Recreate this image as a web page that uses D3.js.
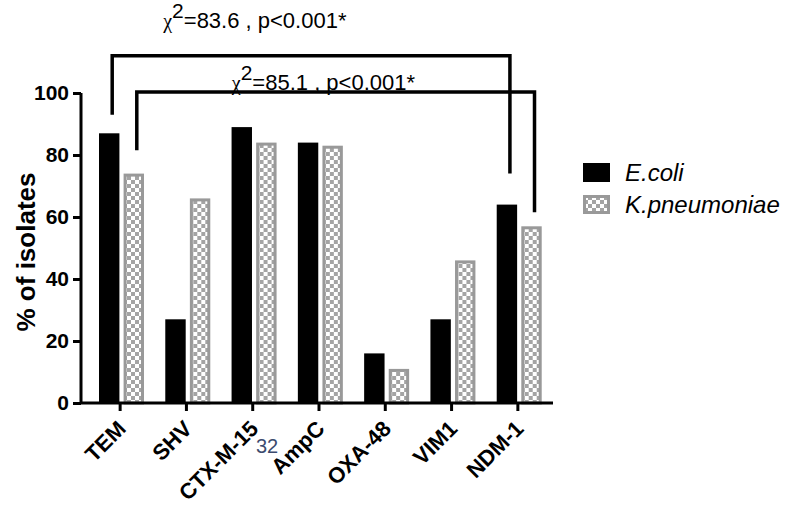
<!DOCTYPE html>
<html><head><meta charset="utf-8">
<script src="https://cdn.jsdelivr.net/npm/d3@7"></script>
<style>
html,body{margin:0;padding:0;background:#fff;}
svg{display:block;font-family:"Liberation Sans",Arial,sans-serif;}
</style></head>
<body>
<svg id="chart" width="800" height="506"></svg>
<script>
// ---- data ----
const categories = ["TEM","SHV","CTX-M-15","AmpC","OXA-48","VIM1","NDM-1"];
const seriesNames = ["E.coli","K.pneumoniae"];
const ecoli = [87, 27, 89, 84, 16, 27, 64];
const kpneumoniae = [74, 66, 84, 83, 11, 46, 57];
const yTicks = [0, 20, 40, 60, 80, 100];
// significance brackets (y in % units)
const bracketSeries = [0, 1];
const bracketTop = [112, 100.3];
const bracketLeftEnd = [93, 81.5];
const bracketRightEnd = [74, 61.5];
const chiValues = ["83.6", "85.1"];
const pLabel = "p<0.001*";

// ---- layout ----
const svg = d3.select("#chart");
const y = d3.scaleLinear().domain([0, 100]).range([403, 93]);
const x0 = d3.scaleBand().domain(categories).range([87, 551]).padding(0);
const x1 = d3.scaleBand().domain(seriesNames).range([12, 57]).paddingInner(0.17);

const defs = svg.append("defs");
const pat = defs.append("pattern").attr("id","chk").attr("patternUnits","userSpaceOnUse")
  .attr("width",8).attr("height",8);
pat.append("rect").attr("width",8).attr("height",8).attr("fill","#ffffff");
pat.append("rect").attr("x",0).attr("y",0).attr("width",4).attr("height",4).attr("fill","#a4a4a4");
pat.append("rect").attr("x",4).attr("y",4).attr("width",4).attr("height",4).attr("fill","#a4a4a4");

const rows = categories.map((c,i)=>({cat:c, vals:[ecoli[i], kpneumoniae[i]]}));

const g = svg.append("g");
const groups = g.selectAll("g.grp").data(rows).join("g")
  .attr("transform", d => `translate(${x0(d.cat)},0)`);
groups.selectAll("rect").data(d => d.vals.map((v,j)=>({s:seriesNames[j], v, j})))
  .join("rect")
  .attr("x", d => x1(d.s) + (d.j ? 1.5 : 0))
  .attr("y", d => y(d.v) + (d.j ? 1.5 : 0))
  .attr("width", d => x1.bandwidth() - (d.j ? 3 : 0))
  .attr("height", d => y(0) - y(d.v) - (d.j ? 1.5 : 0))
  .attr("fill", d => d.j ? "url(#chk)" : "#000")
  .attr("stroke", d => d.j ? "#999999" : "none")
  .attr("stroke-width", 3);

// axes
const yAxis = d3.axisLeft(y).tickValues(yTicks).tickSize(8).tickPadding(4);
const ya = svg.append("g").attr("transform","translate(81,0)").call(yAxis);
ya.select(".domain").attr("stroke","#000").attr("stroke-width",3).attr("d","M0,93V403");
ya.selectAll(".tick line").attr("stroke","#000").attr("stroke-width",3);
ya.selectAll(".tick text").attr("font-size",21).attr("font-weight","bold")
  .attr("font-family","'Liberation Sans',Arial,sans-serif").attr("fill","#000");

const xAxis = d3.axisBottom(x0).tickSize(8).tickSizeOuter(0).tickFormat("");
const xa = svg.append("g").attr("transform","translate(0,403)").call(xAxis);
xa.select(".domain").attr("stroke","#000").attr("stroke-width",3).attr("d","M81,0H553");
xa.selectAll(".tick line").attr("stroke","#000").attr("stroke-width",3);

svg.append("g").selectAll("text").data(categories).join("text")
  .attr("transform", d => `translate(${x0(d)+x0.bandwidth()/2-4},${419}) rotate(-45)`)
  .attr("text-anchor","end").attr("dy","0.71em")
  .attr("font-size",22).attr("font-weight","bold").attr("fill","#000")
  .text(d => d);

// y title
svg.append("text").attr("transform","translate(35,252) rotate(-90)")
  .attr("text-anchor","middle").attr("font-size",26).attr("font-weight","bold")
  .text("% of isolates");

// page number artifact
svg.append("text").attr("x",256).attr("y",453).attr("font-size",20)
  .attr("fill","#3c4b6e").text("32");

// brackets
const barCenter = (cat, s) => x0(cat) + x1(seriesNames[s]) + x1.bandwidth()/2;
const textOffsets = [51, 95];
const textBaselines = [121, 101];
bracketSeries.forEach((s,i)=>{
  const lx = barCenter(categories[0], s) + 3;
  const rx = barCenter(categories[categories.length-1], s) + 3;
  const path = d3.path();
  path.moveTo(lx, y(bracketLeftEnd[i]));
  path.lineTo(lx, y(bracketTop[i]));
  path.lineTo(rx, y(bracketTop[i]));
  path.lineTo(rx, y(bracketRightEnd[i]));
  svg.append("path").attr("d", path.toString()).attr("fill","none")
    .attr("stroke","#000").attr("stroke-width",3.5);
  const t = svg.append("text").attr("x", lx + textOffsets[i]).attr("y", y(textBaselines[i]))
    .attr("font-size",22).attr("fill","#000");
  t.append("tspan").attr("font-family","'Liberation Serif',serif").attr("font-size",20).text("χ");
  t.append("tspan").attr("dy",-10).attr("font-size",21).text("2");
  t.append("tspan").attr("dy",10).text("=" + chiValues[i] + " , " + pLabel);
});

// legend
const legY = [163, 195];
seriesNames.forEach((n,i)=>{
  svg.append("rect").attr("x",583 + (i?1.5:0)).attr("y",legY[i] + (i?1.5:0))
    .attr("width",27 - (i?3:0)).attr("height",19 - (i?3:0))
    .attr("fill", i ? "url(#chk)" : "#000")
    .attr("stroke", i ? "#999999" : "none").attr("stroke-width",3);
  svg.append("text").attr("x",625).attr("y",legY[i]+18).attr("font-size",24)
    .attr("font-style","italic").text(n);
});
</script>
</body></html>
